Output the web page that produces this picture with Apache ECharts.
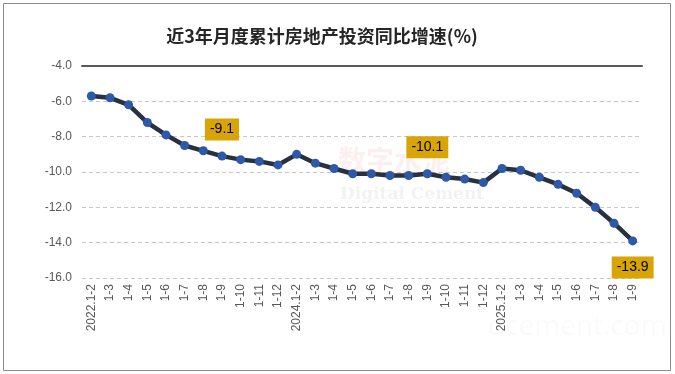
<!DOCTYPE html>
<html>
<head>
<meta charset="utf-8">
<script src="https://cdn.jsdelivr.net/npm/echarts@6/dist/echarts.min.js"></script>
<style>
html,body{margin:0;padding:0;background:#fff;}
#c{width:675px;height:374px;}
</style>
</head>
<body>
<div id="c"></div>
<script>
var title = '近3年月度累计房地产投资同比增速(%)';
var categories = ['2022.1-2','1-3','1-4','1-5','1-6','1-7','1-8','1-9','1-10','1-11','1-12',
  '2024.1-2','1-3','1-4','1-5','1-6','1-7','1-8','1-9','1-10','1-11','1-12',
  '2025.1-2','1-3','1-4','1-5','1-6','1-7','1-8','1-9'];
var values = [-5.7,-5.8,-6.2,-7.2,-7.9,-8.5,-8.8,-9.1,-9.3,-9.4,-9.6,
  -9.0,-9.5,-9.8,-10.1,-10.1,-10.2,-10.2,-10.1,-10.3,-10.4,-10.6,
  -9.8,-9.9,-10.3,-10.7,-11.2,-12.0,-12.9,-13.9];
var labelledIndices = [7, 18, 29];
var yMin = -16, yMax = -4, yStep = 2;

var labelPos = {7:'top', 18:'top', 29:'bottom'};
var seriesData = values.map(function(v, i){
  if (labelledIndices.indexOf(i) >= 0) {
    return {value: v, label: {show: true, position: labelPos[i], distance: 11,
      backgroundColor: '#D9A406', color: '#000', fontSize: 14,
      fontFamily: 'Liberation Sans, Arial, sans-serif',
      padding: [4, 5, 4, 5], formatter: function(p){ return p.value.toFixed(1); }}};
  }
  return v;
});

var chart = echarts.init(document.getElementById('c'), null, {renderer: 'canvas'});
chart.setOption({
  backgroundColor: '#fff',
  animation: false,
  title: {
    text: title, left: 317, top: 22, textAlign: 'center',
    textStyle: {fontSize: 18, fontWeight: 'bold', color: '#262626', fontFamily: 'Noto Sans CJK SC'}
  },
  graphic: [
    {type: 'rect', shape: {x: 3.5, y: 3.5, width: 667, height: 367},
     style: {fill: 'none', stroke: '#8c8c8c', lineWidth: 1}, silent: true, z: -1},
    {type: 'text', left: 338, top: 146, style: {text: '数字水泥', font: 'bold 28px "Noto Sans CJK SC"', fill: 'rgba(230,120,120,0.12)'}, z: -1},
    {type: 'text', left: 340, top: 186, style: {text: 'Digital Cement', font: 'bold 17px "DejaVu Serif"', fill: 'rgba(150,150,150,0.12)'}, z: -1},
    {type: 'text', left: 488, top: 313, style: {text: 'dcement.com', font: '28px "Open Sans"', fill: 'rgba(150,150,150,0.05)'}, z: -1}
  ],
  grid: {left: 82, right: 33, top: 66, bottom: 96},
  xAxis: [{
    type: 'category', data: categories, position: 'bottom',
    axisLine: {show: false}, axisTick: {show: false},
    axisLabel: {rotate: 90, interval: 0, fontSize: 12, color: '#595959', margin: 6,
      fontFamily: 'Liberation Sans, Arial, sans-serif'}
  }, {
    type: 'category', data: categories, position: 'top',
    axisLine: {show: true, lineStyle: {color: '#595959', width: 2}},
    axisTick: {show: false}, axisLabel: {show: false}
  }],
  yAxis: {
    type: 'value', min: yMin, max: yMax, interval: yStep,
    axisLine: {show: false}, axisTick: {show: false},
    axisLabel: {fontSize: 12, color: '#595959', margin: 10,
      fontFamily: 'Liberation Sans, Arial, sans-serif',
      formatter: function(v){ return v.toFixed(1); }},
    splitLine: {lineStyle: {type: [4, 3], color: '#C8C8C8', width: 1}}
  },
  series: [{
    type: 'line', data: seriesData, xAxisIndex: 0,
    symbol: 'circle', symbolSize: 9,
    lineStyle: {color: '#283142', width: 4.5},
    itemStyle: {color: '#2E58A8'},
    z: 3
  }]
});
</script>
</body>
</html>
